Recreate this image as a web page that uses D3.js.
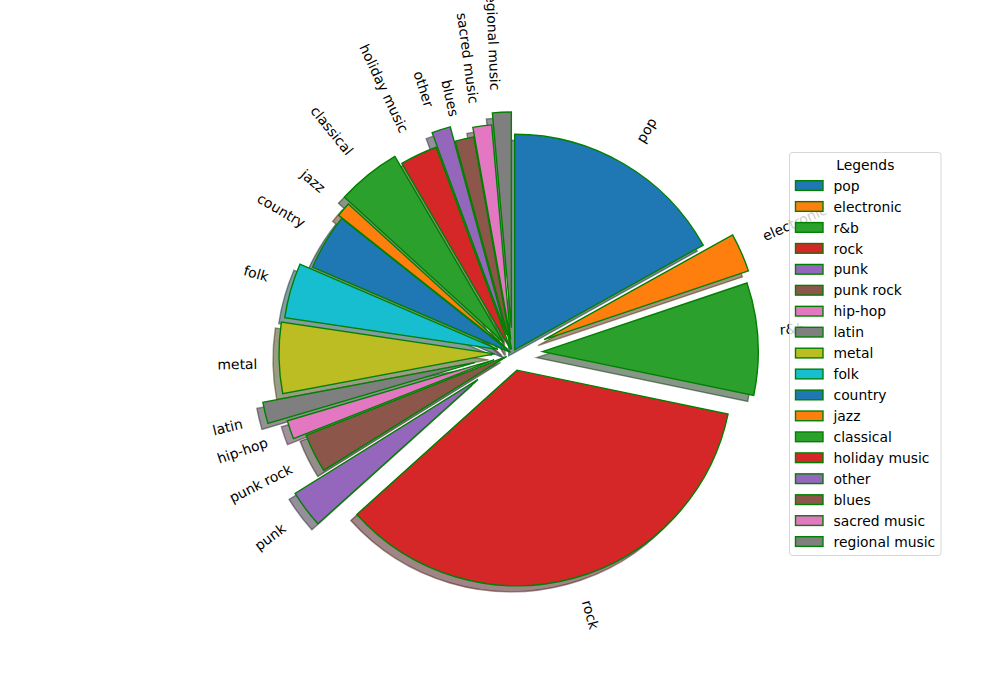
<!DOCTYPE html>
<html><head><meta charset="utf-8">
<script src="https://cdn.jsdelivr.net/npm/d3@7"></script>
<style>body{margin:0;background:#fff} text{font-family:"DejaVu Sans",sans-serif;fill:#000}</style>
</head><body><svg id="chart" width="1000" height="700"></svg>
<script>
const categories = ["pop","electronic","r&b","rock","punk","punk rock","hip-hop","latin","metal","folk","country","jazz","classical","holiday music","other","blues","sacred music","regional music"];
const values = [16.9, 2.9, 8.4, 35.0, 2.8, 2.9, 1.4, 1.6, 5.3, 4.1, 4.2, 1.1, 4.8, 2.8, 1.4, 1.4, 1.4, 1.4];
const explode = [0.02, 0.16, 0.14, 0.08, 0.2, 0.03, 0.09, 0.18, 0.083, 0.07, 0.01, 0.03, 0.065, 0.02, 0.09, 0.02, 0.065, 0.12];
const colors = ["#1f77b4","#ff7f0e","#2ca02c","#d62728","#9467bd","#8c564b","#e377c2","#7f7f7f","#bcbd22","#17becf"];
const legendTitle = "Legends";

const svg = d3.select("#chart");
const cx = 512.5, cy = 353.5, R = 215.6, fs = 13.89;
const edge = "#008000", lw = 1.4;

const pie = d3.pie().sort(null).value(d => d.v);
const arcs = pie(categories.map((c, i) => ({c, v: values[i], e: explode[i], col: colors[i % colors.length]})));
const arcGen = d3.arc().innerRadius(0).outerRadius(R);
arcs.forEach(a => {
  const m = (a.startAngle + a.endAngle) / 2;
  a.mid = m;
  a.dx = a.data.e * R * Math.sin(m);
  a.dy = -a.data.e * R * Math.cos(m);
});
function shade(c) { const r = d3.rgb(c); return d3.rgb(r.r * 0.3, r.g * 0.3, r.b * 0.3).toString(); }

// shadows
svg.append("g").selectAll("path").data(arcs).join("path")
  .attr("transform", a => `translate(${cx + a.dx - 6},${cy + a.dy + 6})`)
  .attr("d", arcGen)
  .attr("fill", a => shade(a.data.col)).attr("fill-opacity", 0.5)
  .attr("stroke", a => shade(a.data.col)).attr("stroke-opacity", 0.5).attr("stroke-width", lw);

// wedges
svg.append("g").selectAll("path").data(arcs).join("path")
  .attr("transform", a => `translate(${cx + a.dx},${cy + a.dy})`)
  .attr("d", arcGen)
  .attr("fill", a => a.data.col)
  .attr("stroke", edge).attr("stroke-width", lw);

// labels (matplotlib rotatelabels behaviour)
const gL = svg.append("g");
const asc = 0.76 * fs, desc = 0.208 * fs;
arcs.forEach(a => {
  const ux = Math.sin(a.mid), uy = -Math.cos(a.mid);
  const xt = cx + a.dx + 1.1 * R * ux, yt = cy + a.dy + 1.1 * R * uy;
  const dX = xt - cx, dY = -(yt - cy);
  const theta = 90 - a.mid * 180 / Math.PI;
  const rot = theta + (dX > 0 ? 0 : 180);
  const t = gL.append("text").text(a.data.c).attr("font-size", fs);
  const w = t.node().getComputedTextLength();
  const r = rot * Math.PI / 180, c = Math.cos(r), s = Math.sin(r);
  const pts = [[0, -asc], [w, -asc], [0, desc], [w, desc]].map(([x, y]) => [x * c + y * s, -x * s + y * c]);
  const minX = d3.min(pts, p => p[0]), maxX = d3.max(pts, p => p[0]);
  const minY = d3.min(pts, p => p[1]), maxY = d3.max(pts, p => p[1]);
  const ox = dX > 0 ? xt - minX : xt - maxX;
  const oy = dY > 0 ? yt - maxY : yt - minY;
  t.attr("transform", `translate(${ox},${oy}) rotate(${-rot})`);
});

// legend
const lg = svg.append("g");
lg.append("rect").attr("x", 789.5).attr("y", 152.5).attr("width", 151.5).attr("height", 403).attr("rx", 2.8)
  .attr("fill", "#fff").attr("fill-opacity", 0.8).attr("stroke", "#cccccc").attr("stroke-opacity", 0.8).attr("stroke-width", 1);
lg.append("text").attr("x", 865.3).attr("y", 169.5).attr("text-anchor", "middle").attr("font-size", fs).text(legendTitle);
const rowY = d3.scaleLinear().domain([0, categories.length - 1]).range([190.7, 190.7 + 20.94 * (categories.length - 1)]);
const rows = lg.selectAll("g.row").data(arcs).join("g").attr("class", "row")
  .attr("transform", (a, i) => `translate(0,${rowY(i)})`);
rows.append("rect").attr("x", 795.5).attr("y", -10).attr("width", 27.5).attr("height", 9.7)
  .attr("fill", a => a.data.col).attr("stroke", edge).attr("stroke-width", lw);
rows.append("text").attr("x", 833.5).attr("y", 0).attr("font-size", fs).text(a => a.data.c);
</script></body></html>
